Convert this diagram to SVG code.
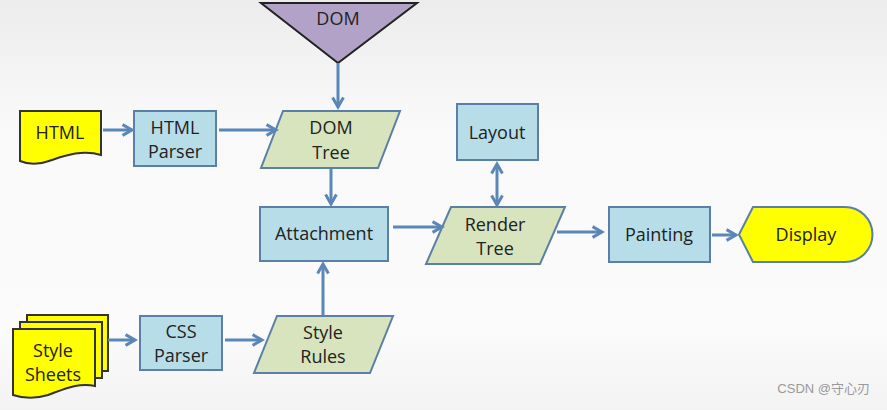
<svg xmlns="http://www.w3.org/2000/svg" width="887" height="410" viewBox="0 0 887 410">
<defs>
<linearGradient id="bg" x1="0" y1="0" x2="0" y2="1">
<stop offset="0" stop-color="#ececec"/>
<stop offset="0.3" stop-color="#f9f9f9"/>
<stop offset="0.8" stop-color="#fbfbfb"/>
<stop offset="1" stop-color="#f3f3f3"/>
</linearGradient>
<marker id="ah" viewBox="0 0 10 10" refX="8" refY="5" markerWidth="4.5" markerHeight="4.5" orient="auto-start-reverse" markerUnits="strokeWidth">
<path d="M1,1 L8,5 L1,9" fill="none" stroke="#5b86b8" stroke-width="2.2"/>
</marker>
</defs>
<style>
.box{fill:#b7dde8;stroke:#5b7fa6;stroke-width:2}
.para{fill:#d7e4bd;stroke:#5b7fa6;stroke-width:2}
.doc{fill:#ffff00;stroke:#333;stroke-width:2}
.tri{fill:#b3a2c7;stroke:#222;stroke-width:2}
.t{font-family:"Open Sans","Liberation Sans",sans-serif;font-size:18px;fill:#222;text-anchor:middle;dominant-baseline:central}
.c{fill:none;stroke:#5b86b8;stroke-width:3;marker-end:url(#ah)}
</style>
<rect width="887" height="410" fill="url(#bg)"/>

<g id="dom">
<polygon class="tri" points="261,3 417,3 338,63"/>
<text class="t" x="338" y="18">DOM</text>
</g>
<g id="html">
<path class="doc" d="M20,111 L101,111 L101,155 C 82,149 64,156 49,161 C 38,165 27,164 20,161 Z"/>
<text class="t" x="60" y="132">HTML</text>
</g>
<g id="html-parser">
<rect class="box" x="134" y="111" width="82" height="55"/>
<text class="t" x="175" y="127">HTML</text>
<text class="t" x="175" y="151">Parser</text>
</g>
<g id="dom-tree">
<polygon class="para" points="283,111 400,111 378,168 261,168"/>
<text class="t" x="331" y="127">DOM</text>
<text class="t" x="331" y="152">Tree</text>
</g>
<g id="attachment">
<rect class="box" x="260" y="207" width="128" height="54"/>
<text class="t" x="324" y="233">Attachment</text>
</g>
<g id="style-sheets">
<rect class="doc" x="27" y="315" width="81" height="56"/>
<rect class="doc" x="20" y="322" width="82" height="56"/>
<path class="doc" d="M13,329 L95,329 L95,386 C 78,382 62,390 48,395 C 35,399 22,398 13,395 Z"/>
<text class="t" x="53" y="350">Style</text>
<text class="t" x="53" y="374">Sheets</text>
</g>
<g id="css-parser">
<rect class="box" x="140" y="316" width="82" height="54"/>
<text class="t" x="181" y="331">CSS</text>
<text class="t" x="181" y="355">Parser</text>
</g>
<g id="style-rules">
<polygon class="para" points="277,316 393,316 370,373 254,373"/>
<text class="t" x="323" y="332">Style</text>
<text class="t" x="323" y="356">Rules</text>
</g>
<g id="layout">
<rect class="box" x="457" y="104" width="81" height="56"/>
<text class="t" x="497" y="132">Layout</text>
</g>
<g id="render-tree">
<polygon class="para" points="451,207 565,207 540,264 426,264"/>
<text class="t" x="495" y="224">Render</text>
<text class="t" x="495" y="248">Tree</text>
</g>
<g id="painting">
<rect class="box" x="609" y="207" width="101" height="55"/>
<text class="t" x="659" y="234">Painting</text>
</g>
<g id="display">
<path class="doc" d="M753,207 L845,207 A27.5,27.5 0 0 1 845,262 L753,262 L739,234.5 Z" style="stroke:#5b7fa6"/>
<text class="t" x="806" y="234">Display</text>
</g>

<g id="connectors">
<path class="c" d="M103,130 L132,130"/>
<path class="c" d="M219,130 L276,130"/>
<path class="c" d="M338,63 L338,107"/>
<path class="c" d="M331,169 L331,204"/>
<path class="c" d="M393,227 L442,227"/>
<path class="c" d="M497,164 L497,205" style="marker-start:url(#ah)"/>
<path class="c" d="M557,232 L602,232"/>
<path class="c" d="M712,235 L736,235"/>
<path class="c" d="M323,316 L323,264"/>
<path class="c" d="M225,340 L262,340"/>
<path class="c" d="M108,340 L135,340"/>
</g>
<text x="870" y="393" text-anchor="end" style="font-family:'Liberation Sans','Noto Sans CJK SC',sans-serif;font-size:13px;fill:#999">CSDN @守心刃</text>
</svg>
